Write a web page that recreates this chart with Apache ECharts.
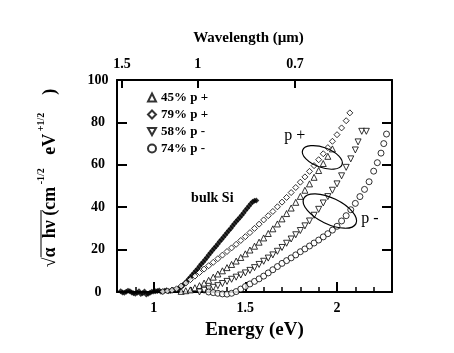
<!DOCTYPE html>
<html><head><meta charset="utf-8">
<script src="https://cdn.jsdelivr.net/npm/echarts@6/dist/echarts.min.js"></script>
<style>html,body{margin:0;padding:0;background:#fff}#c{width:454px;height:353px}</style>
</head><body><div id="c"></div>
<script>
// ---- data ----
var bulkE = [0.82,0.83,0.84,0.85,0.86,0.87,0.88,0.89,0.90,0.91,0.92,0.93,0.94,0.95,0.96,0.97,0.98,0.99,1.00,1.01,1.02,1.03,1.04,1.05,1.06,1.07,1.08,1.09,1.10,1.11,1.12,1.13,1.14,1.15,1.16,1.17,1.18,1.19,1.20,1.21,1.22,1.23,1.24,1.25,1.26,1.27,1.28,1.29,1.30,1.31,1.32,1.33,1.34,1.35,1.36,1.37,1.38,1.39,1.40,1.41,1.42,1.43,1.44,1.45,1.46,1.47,1.48,1.49,1.50,1.51,1.52,1.53,1.54,1.55,1.56];
var bulkV = [0.3,-0.2,-0.4,0.1,0.6,0.4,-0.2,-0.6,-0.8,-0.3,0.4,-0.9,-0.6,0.2,-1.2,-0.8,-0.3,0.1,0.2,0.3,0.5,0.7,0.1,0.2,0.6,0.8,0.4,0.5,0.8,0.9,1.0,1.3,1.8,2.4,3.2,4.1,5.0,6.0,7.0,8.0,9.0,10.0,11.0,12.1,13.2,14.2,15.2,16.3,17.4,18.5,19.6,20.6,21.6,22.7,23.8,24.8,25.8,26.9,28.0,29.0,30.0,31.1,32.2,33.2,34.2,35.2,36.2,37.3,38.4,39.5,40.6,41.6,42.6,43.0,43.2];

var p79E = [1.05,1.075,1.10,1.125,1.15,1.175,1.20,1.225,1.25,1.275,1.30,1.325,1.35,1.375,1.40,1.425,1.45,1.475,1.50,1.525,1.55,1.575,1.60,1.625,1.65,1.675,1.70,1.725,1.75,1.775,1.80,1.825,1.85,1.875,1.90,1.925,1.95,1.975,2.00,2.025,2.05,2.07];
var p79V = [0.2,0.5,0.8,1.5,2.8,4.2,5.8,7.5,9.2,10.8,12.4,14.0,15.7,17.4,19.1,20.8,22.5,24.3,26.1,28.0,30.0,32.0,34.0,36.0,38.0,40.2,42.4,44.6,46.9,49.3,51.8,54.3,56.9,59.6,62.4,65.2,68.1,71.1,74.2,77.4,80.8,84.5];

var p45E = [1.15,1.175,1.20,1.225,1.25,1.275,1.30,1.325,1.35,1.375,1.40,1.425,1.45,1.475,1.50,1.525,1.55,1.575,1.60,1.625,1.65,1.675,1.70,1.725,1.75,1.775,1.80,1.825,1.85,1.875,1.90,1.925,1.95,1.975];
var p45V = [0.3,0.6,1.0,2.0,3.0,4.2,5.5,7.0,8.5,10.0,11.5,13.0,14.6,16.3,18.0,19.8,21.6,23.5,25.5,27.6,29.8,32.1,34.5,37.0,39.6,42.3,45.1,48.0,51.0,54.1,57.3,60.6,64.0,67.5];

var m58E = [1.25,1.275,1.30,1.325,1.35,1.375,1.40,1.425,1.45,1.475,1.50,1.525,1.55,1.575,1.60,1.625,1.65,1.675,1.70,1.725,1.75,1.775,1.80,1.825,1.85,1.875,1.90,1.925,1.95,1.975,2.00,2.025,2.05,2.075,2.10,2.115,2.135,2.16];
var m58V = [0.0,0.8,1.5,2.2,3.0,4.0,5.0,6.0,7.0,8.0,9.0,10.2,11.5,13.0,14.5,16.0,17.5,19.2,21.0,23.0,25.0,27.0,29.0,31.2,33.5,36.2,39.0,42.0,45.0,48.0,51.0,54.8,58.8,62.8,67.0,70.8,75.8,75.8];

var m74E = [1.30,1.325,1.35,1.375,1.40,1.425,1.45,1.475,1.50,1.525,1.55,1.575,1.60,1.625,1.65,1.675,1.70,1.725,1.75,1.775,1.80,1.825,1.85,1.875,1.90,1.925,1.95,1.975,2.00,2.025,2.05,2.075,2.10,2.125,2.15,2.175,2.20,2.22,2.24,2.255,2.27];
var m74V = [0.0,-0.3,-0.6,-0.9,-1.0,-0.6,0.2,1.4,2.6,3.8,5.0,6.2,7.5,9.0,10.5,12.0,13.5,14.8,16.1,17.5,19.0,20.3,21.7,23.1,24.5,26.0,27.5,29.2,31.0,33.5,36.0,38.8,41.8,45.0,48.4,52.0,57.0,61.0,65.5,70.0,74.5];

var seriesNames = ['45% p +', '79% p +', '58% p -', '74% p -'];
var topWavelengths = [1.5, 1, 0.7];
var topLabels = ['1.5', '1', '0.7'];
var bottomLabels = [1, 1.5, 2];
var yTicks = [0, 20, 40, 60, 80, 100];

// ---- build ----
function pairs(xs, ys) { return xs.map(function (x, i) { return [x, ys[i]]; }); }
var topE = topWavelengths.map(function (w) { return 1.24 / w; });
var FONT = 'Liberation Serif';
var open = { color: '#fff', borderColor: '#000', borderWidth: 1 };
var downTri = 'path://M0,0 L10,0 L5,9 Z';

var chart = echarts.init(document.getElementById('c'), null, { renderer: 'canvas' });
var option = {
  animation: false,
  backgroundColor: '#fff',
  grid: { left: 117, top: 80, width: 275, height: 212 },
  legend: {
    orient: 'vertical', left: 147, top: 91, padding: 0, itemWidth: 8, itemHeight: 8, itemGap: 4,
    data: seriesNames,
    textStyle: { fontFamily: FONT, fontWeight: 'bold', fontSize: 13, color: '#000' },
    selectedMode: false
  },
  xAxis: [
    { type: 'value', position: 'bottom', min: 0.8, max: 2.3, interval: 0.1,
      axisLine: { lineStyle: { color: '#000', width: 2 } },
      axisTick: { inside: true, length: 5, lineStyle: { color: '#000', width: 1.5 } },
      axisLabel: { customValues: bottomLabels, margin: 9, color: '#000', fontFamily: FONT, fontWeight: 'bold', fontSize: 14 },
      splitLine: { show: false },
      name: 'Energy (eV)', nameLocation: 'middle', nameGap: 29,
      nameTextStyle: { fontFamily: FONT, fontWeight: 'bold', fontSize: 19, color: '#000' } },
    { type: 'value', position: 'bottom', min: 0.8, max: 2.3,
      axisLine: { show: false },
      axisTick: { inside: true, length: 10, customValues: bottomLabels, lineStyle: { color: '#000', width: 2 } },
      axisLabel: { show: false }, splitLine: { show: false } },
    { type: 'value', position: 'top', min: 0.8, max: 2.3,
      axisLine: { lineStyle: { color: '#000', width: 2 } },
      axisTick: { inside: true, length: 8, customValues: topE, lineStyle: { color: '#000', width: 2 } },
      axisLabel: { customValues: topE, margin: 9, color: '#000', fontFamily: FONT, fontWeight: 'bold', fontSize: 14,
        formatter: function (v) {
          for (var i = 0; i < topE.length; i++) { if (Math.abs(topE[i] - v) < 1e-6) return topLabels[i]; }
          return '';
        } },
      splitLine: { show: false },
      name: 'Wavelength (\u00b5m)', nameLocation: 'middle', nameGap: 34,
      nameTextStyle: { fontFamily: FONT, fontWeight: 'bold', fontSize: 15, color: '#000', padding: [0, 12, 0, 0] } }
  ],
  yAxis: [
    { type: 'value', position: 'left', min: 0, max: 100, interval: 20,
      axisLine: { show: true, lineStyle: { color: '#000', width: 2 } },
      axisTick: { show: true, inside: true, length: 10, customValues: yTicks, lineStyle: { color: '#000', width: 2 } },
      axisLabel: { customValues: yTicks, align: 'center', margin: 19, color: '#000', fontFamily: FONT, fontWeight: 'bold', fontSize: 14 },
      splitLine: { show: false } },
    { type: 'value', position: 'right', min: 0, max: 100, interval: 20,
      axisLine: { show: true, lineStyle: { color: '#000', width: 2 } },
      axisTick: { show: true, inside: true, length: 10, lineStyle: { color: '#000', width: 2 } },
      axisLabel: { show: false }, splitLine: { show: false } }
  ],
  series: [
    { name: 'bulk Si', type: 'scatter', symbol: 'diamond', symbolSize: 6, clip: false,
      itemStyle: { color: '#000' }, data: pairs(bulkE, bulkV) },
    { name: seriesNames[0], type: 'scatter', symbol: 'triangle', symbolSize: 6, clip: false,
      itemStyle: open, data: pairs(p45E, p45V) },
    { name: seriesNames[1], type: 'scatter', symbol: 'diamond', symbolSize: 6, clip: false,
      itemStyle: open, data: pairs(p79E, p79V) },
    { name: seriesNames[2], type: 'scatter', symbol: downTri, symbolSize: 6, clip: false,
      itemStyle: open, data: pairs(m58E, m58V) },
    { name: seriesNames[3], type: 'scatter', symbol: 'circle', symbolSize: 6, clip: false,
      itemStyle: open, data: pairs(m74E, m74V) }
  ]
};
chart.setOption(option);

// annotations placed in data coordinates
var textNotes = [
  { text: 'bulk Si', at: [1.32, 44.3], size: 14, weight: 'bold' },
  { text: 'p +', at: [1.77, 73.6], size: 16, weight: 'normal' },
  { text: 'p -', at: [2.18, 34.4], size: 16, weight: 'normal' }
];
var ellipseNotes = [
  { at: [1.92, 63.5], rx: 21, ry: 10, rot: -0.35 },
  { at: [1.961, 38.2], rx: 29, ry: 13, rot: -0.45 }
];
function px(p) { return chart.convertToPixel({ xAxisIndex: 0, yAxisIndex: 0 }, p); }
var gfx = [];
textNotes.forEach(function (n) {
  var p = px(n.at);
  gfx.push({ type: 'text', x: p[0], y: p[1], z: 100,
    style: { text: n.text, fill: '#000', font: n.weight + ' ' + n.size + 'px "' + FONT + '"', align: 'center', verticalAlign: 'middle' } });
});
ellipseNotes.forEach(function (n) {
  var p = px(n.at);
  gfx.push({ type: 'ellipse', x: p[0], y: p[1], rotation: n.rot, z: 100,
    shape: { cx: 0, cy: 0, rx: n.rx, ry: n.ry },
    style: { fill: null, stroke: '#000', lineWidth: 1.2 } });
});
// y axis title (rotated)
gfx.push({
  type: 'group', x: 50, y: 178, rotation: Math.PI / 2,
  children: [
    { type: 'text', x: 0, y: 0,
      style: {
        text: '{m|\u221a\u03b1  h\u03bd (cm}{s| -1/2}{m|   eV}{s| +1/2}{m|    )}',
        align: 'center', verticalAlign: 'middle',
        rich: {
          m: { fontFamily: FONT, fontWeight: 'bold', fontSize: 18, lineHeight: 27, fill: '#000', color: '#000' },
          s: { fontFamily: FONT, fontWeight: 'bold', fontSize: 10, verticalAlign: 'top', fill: '#000', color: '#000' }
        }
      } },
    { type: 'line', shape: { x1: -79, y1: -9, x2: -32, y2: -9 }, style: { stroke: '#000', lineWidth: 1 } }
  ]
});
chart.setOption({ graphic: gfx });
</script>
</body></html>
